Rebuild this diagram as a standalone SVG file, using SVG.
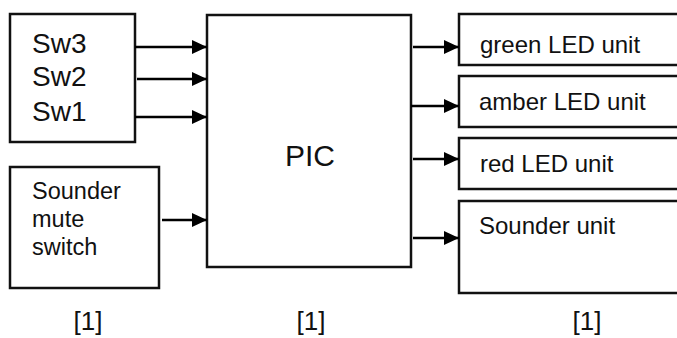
<svg xmlns="http://www.w3.org/2000/svg" width="677" height="338" viewBox="0 0 677 338">
<style>
.box{fill:#fff;stroke:#111;stroke-width:2.5}
.t{font-family:"Liberation Sans",Arial,sans-serif;fill:#111}
.c{stroke:#000;stroke-width:2.5;fill:none}
</style>
<defs>
<marker id="ah" markerWidth="15" markerHeight="14" refX="15" refY="7" orient="auto" markerUnits="userSpaceOnUse">
<path d="M0,0 L15,7 L0,14 Z" fill="#000"/>
</marker>
</defs>
<rect width="677" height="338" fill="#fff"/>
<g id="switches">
<rect class="box" x="10" y="14" width="125" height="128"/>
<text class="t" x="32" y="53" font-size="28">Sw3</text>
<text class="t" x="32" y="86" font-size="28">Sw2</text>
<text class="t" x="32" y="121" font-size="28">Sw1</text>
</g>
<g id="mute">
<rect class="box" x="10" y="167" width="149" height="121"/>
<text class="t" x="32" y="199" font-size="23.5">Sounder</text>
<text class="t" x="32" y="227" font-size="23.5">mute</text>
<text class="t" x="32" y="255" font-size="23.5">switch</text>
</g>
<g id="pic">
<rect class="box" x="207" y="15" width="204" height="252"/>
<text class="t" x="310" y="166" font-size="30" text-anchor="middle">PIC</text>
</g>
<g id="green">
<rect class="box" x="459" y="14" width="222" height="51"/>
<text class="t" x="480" y="53" font-size="24">green LED unit</text>
</g>
<g id="amber">
<rect class="box" x="459" y="76" width="222" height="51"/>
<text class="t" x="479" y="110" font-size="24">amber LED unit</text>
</g>
<g id="red">
<rect class="box" x="459" y="138" width="222" height="51"/>
<text class="t" x="480" y="172" font-size="24">red LED unit</text>
</g>
<g id="sounder">
<rect class="box" x="459" y="201" width="222" height="92"/>
<text class="t" x="479" y="234" font-size="24">Sounder unit</text>
</g>
<g id="connectors">
<line class="c" x1="135" y1="47" x2="207" y2="47" marker-end="url(#ah)"/>
<line class="c" x1="137" y1="79" x2="207" y2="79" marker-end="url(#ah)"/>
<line class="c" x1="135" y1="117" x2="207" y2="117" marker-end="url(#ah)"/>
<line class="c" x1="162" y1="220" x2="207" y2="220" marker-end="url(#ah)"/>
<line class="c" x1="413" y1="47" x2="459" y2="47" marker-end="url(#ah)"/>
<line class="c" x1="411" y1="106" x2="459" y2="106" marker-end="url(#ah)"/>
<line class="c" x1="413" y1="159" x2="459" y2="159" marker-end="url(#ah)"/>
<line class="c" x1="413" y1="238" x2="459" y2="238" marker-end="url(#ah)"/>
</g>
<g id="marks">
<text class="t" x="88" y="330" font-size="26" text-anchor="middle">[1]</text>
<text class="t" x="311" y="330" font-size="26" text-anchor="middle">[1]</text>
<text class="t" x="587" y="330" font-size="26" text-anchor="middle">[1]</text>
</g>
</svg>
